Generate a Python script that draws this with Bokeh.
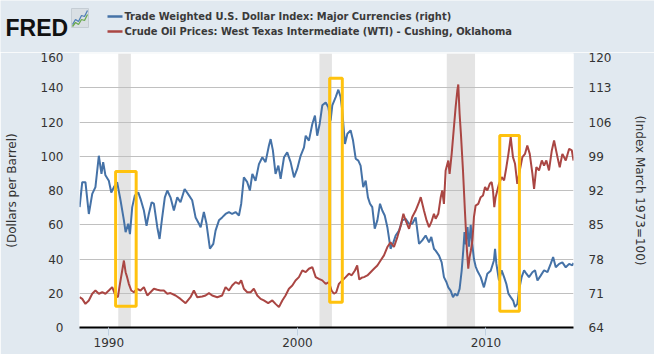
from bokeh.plotting import figure
from bokeh.layouts import column
from bokeh.models import Range1d, LinearAxis, FixedTicker
from bokeh.core.properties import value
from bokeh.embed import file_html
from bokeh.resources import INLINE

# ---------------- data ----------------
usd_dates = [1988.45, 1988.59, 1988.76, 1988.94, 1989.12, 1989.29, 1989.47, 1989.61, 1989.70, 1989.82,
             1990.00, 1990.13, 1990.27, 1990.44, 1990.62, 1990.80, 1990.89, 1991.03, 1991.12, 1991.24,
             1991.38, 1991.56, 1991.68, 1991.86, 1992.00, 1992.12, 1992.27, 1992.39, 1992.57, 1992.69,
             1992.83, 1992.97, 1993.10, 1993.27, 1993.45, 1993.63, 1993.80, 1994.02, 1994.25, 1994.42,
             1994.60, 1994.78, 1994.87, 1995.04, 1995.18, 1995.36, 1995.54, 1995.66, 1995.84, 1996.01,
             1996.19, 1996.37, 1996.54, 1996.72, 1996.90, 1997.02, 1997.16, 1997.34, 1997.48, 1997.61,
             1997.78, 1997.96, 1998.14, 1998.31, 1998.49, 1998.58, 1998.70, 1998.84, 1998.99, 1999.11,
             1999.29, 1999.46, 1999.64, 1999.82, 1999.99, 2000.17, 2000.35, 2000.44, 2000.61, 2000.79,
             2000.93, 2001.05, 2001.18, 2001.32, 2001.50, 2001.64, 2001.76, 2001.85, 2002.03, 2002.17,
             2002.29, 2002.38, 2002.52, 2002.65, 2002.82, 2002.95, 2003.09, 2003.23, 2003.35, 2003.49,
             2003.62, 2003.74, 2003.85, 2003.97, 2004.10, 2004.24, 2004.38, 2004.50, 2004.63, 2004.77,
             2004.94, 2005.09, 2005.21, 2005.39, 2005.56, 2005.74, 2005.92, 2006.09, 2006.27, 2006.45,
             2006.62, 2006.80, 2006.98, 2007.10, 2007.24, 2007.33, 2007.51, 2007.65, 2007.77, 2007.90,
             2008.00, 2008.13, 2008.25, 2008.36, 2008.48, 2008.60, 2008.71, 2008.80, 2008.86, 2008.93,
             2009.02, 2009.10, 2009.19, 2009.26, 2009.36, 2009.45, 2009.54, 2009.72, 2009.89, 2010.07,
             2010.25, 2010.42, 2010.48, 2010.55, 2010.69, 2010.83, 2010.96, 2011.08, 2011.19, 2011.31,
             2011.44, 2011.54, 2011.66, 2011.75, 2011.89, 2012.02, 2012.14, 2012.28, 2012.46, 2012.60,
             2012.73, 2012.90, 2013.08, 2013.26, 2013.43, 2013.56, 2013.70, 2013.88, 2014.05, 2014.23,
             2014.41, 2014.58, 2014.64]
usd_index = [88.6, 93.7, 93.7, 87.2, 91.3, 92.7, 99.1, 95.4, 97.8, 95.1,
             94.0, 91.6, 92.7, 93.7, 90.0, 85.9, 83.5, 85.2, 83.1, 88.6,
             91.0, 91.6, 90.3, 87.9, 84.8, 87.2, 89.6, 89.3, 84.5, 82.1,
             86.5, 90.6, 92.0, 90.6, 87.9, 90.6, 89.6, 92.3, 91.0, 90.0,
             86.5, 85.2, 84.5, 87.6, 85.2, 80.1, 81.1, 83.8, 85.9, 86.5,
             87.2, 87.6, 87.2, 87.6, 86.9, 89.3, 94.7, 93.7, 92.0, 95.4,
             94.0, 97.4, 98.8, 97.8, 101.2, 102.5, 100.2, 95.4, 97.1, 94.4,
             98.8, 99.8, 97.8, 94.7, 96.4, 99.1, 100.8, 103.2, 102.2, 105.6,
             107.3, 103.2, 105.6, 109.4, 110.0, 109.0, 106.3, 109.4, 111.1, 112.6,
             111.1, 108.3, 101.5, 103.6, 104.3, 102.2, 98.5, 98.1, 97.1, 92.7,
             94.0, 90.6, 89.3, 88.6, 84.2, 85.9, 89.3, 87.9, 86.9, 84.5,
             80.1, 81.4, 82.8, 83.8, 85.9, 86.2, 85.2, 85.2, 86.5, 81.1,
             81.8, 82.8, 81.4, 82.5, 80.1, 79.7, 78.7, 77.3, 74.3, 73.3,
             72.2, 71.5, 70.2, 70.9, 70.5, 71.9, 75.6, 80.0, 83.5, 81.0,
             84.5, 80.5, 85.0, 81.5, 78.0, 76.5, 75.6, 74.3, 72.2, 75.0,
             75.6, 77.7, 80.1, 77.0, 73.6, 75.7, 74.3, 72.9, 70.9, 70.2,
             69.5, 68.2, 68.8, 71.6, 74.3, 75.7, 75.0, 74.3, 75.3, 75.7,
             73.6, 74.6, 75.7, 75.3, 77.0, 78.4, 76.3, 77.0, 77.3, 76.3,
             77.0, 76.7, 77.2]

oil_dates = [1988.45, 1988.59, 1988.76, 1988.94, 1989.12, 1989.29, 1989.47, 1989.65, 1989.82, 1990.00,
             1990.18, 1990.35, 1990.48, 1990.59, 1990.71, 1990.80, 1990.89, 1990.97, 1991.06, 1991.19,
             1991.33, 1991.50, 1991.68, 1991.86, 1992.04, 1992.21, 1992.39, 1992.57, 1992.74, 1992.92,
             1993.10, 1993.27, 1993.54, 1993.80, 1994.07, 1994.33, 1994.51, 1994.69, 1994.95, 1995.13,
             1995.31, 1995.48, 1995.75, 1996.01, 1996.19, 1996.37, 1996.54, 1996.72, 1996.90, 1997.02,
             1997.16, 1997.34, 1997.52, 1997.69, 1997.87, 1998.05, 1998.22, 1998.45, 1998.67, 1998.84,
             1999.02, 1999.20, 1999.37, 1999.55, 1999.73, 1999.90, 2000.08, 2000.26, 2000.44, 2000.61,
             2000.79, 2000.97, 2001.14, 2001.32, 2001.50, 2001.67, 2001.81, 2001.94, 2002.06, 2002.20,
             2002.38, 2002.56, 2002.73, 2002.88, 2003.05, 2003.17, 2003.28, 2003.40, 2003.53, 2003.71,
             2003.88, 2004.06, 2004.24, 2004.41, 2004.59, 2004.77, 2004.94, 2005.12, 2005.30, 2005.48,
             2005.62, 2005.74, 2005.92, 2006.09, 2006.27, 2006.45, 2006.54, 2006.71, 2006.85, 2006.98,
             2007.10, 2007.24, 2007.33, 2007.47, 2007.60, 2007.68, 2007.77, 2007.86, 2008.00, 2008.07,
             2008.18, 2008.30, 2008.39, 2008.48, 2008.53, 2008.60, 2008.67, 2008.78, 2008.89, 2008.99,
             2009.06, 2009.13, 2009.20, 2009.28, 2009.36, 2009.45, 2009.59, 2009.72, 2009.84, 2009.95,
             2010.07, 2010.20, 2010.30, 2010.37, 2010.44, 2010.51, 2010.60, 2010.69, 2010.83, 2010.96,
             2011.08, 2011.19, 2011.31, 2011.43, 2011.54, 2011.66, 2011.79, 2011.93, 2012.07, 2012.19,
             2012.32, 2012.46, 2012.55, 2012.67, 2012.81, 2012.96, 2013.08, 2013.20, 2013.34, 2013.49,
             2013.61, 2013.79, 2013.91, 2014.05, 2014.23, 2014.41, 2014.55, 2014.64]
oil_price = [17.7, 16.7, 13.8, 15.8, 19.7, 21.6, 19.7, 20.6, 19.7, 21.6,
             23.6, 18.7, 17.7, 25.5, 33.3, 39.1, 32.3, 29.4, 25.5, 21.6,
             20.6, 22.6, 21.6, 23.6, 18.7, 20.6, 22.6, 22.0, 21.6, 21.6,
             19.7, 20.1, 18.7, 16.7, 14.2, 17.7, 21.6, 17.7, 18.1, 18.7,
             20.1, 18.7, 17.7, 18.7, 23.6, 21.6, 24.5, 26.5, 25.5, 27.5,
             22.6, 20.6, 20.6, 22.6, 18.7, 16.7, 15.8, 14.2, 15.8, 13.8,
             11.9, 15.8, 18.7, 22.6, 24.5, 27.5, 29.4, 33.3, 32.3, 34.3,
             35.3, 29.4, 28.4, 27.5, 25.5, 26.5, 21.6, 19.7, 20.6, 25.5,
             27.5, 29.4, 31.4, 30.5, 33.3, 36.2, 28.0, 29.0, 29.4, 30.4,
             32.3, 34.3, 36.2, 39.1, 42.1, 47.0, 49.8, 47.0, 52.8, 59.6,
             66.4, 62.5, 57.6, 64.5, 68.3, 73.2, 76.1, 68.3, 62.5, 58.6,
             61.5, 66.4, 63.5, 66.4, 76.1, 80.0, 72.2, 91.7, 97.5, 89.7,
             101.4, 117.0, 128.7, 138.4, 141.9, 124.8, 113.1, 91.7, 66.4, 45.0,
             34.3, 41.1, 45.0, 50.8, 64.4, 71.2, 72.2, 76.1, 77.1, 82.0,
             80.0, 83.9, 84.9, 80.0, 70.3, 76.1, 80.0, 83.9, 87.8, 85.9,
             93.6, 101.4, 111.2, 99.5, 95.6, 83.9, 91.7, 99.5, 101.4, 106.3,
             101.4, 89.8, 81.0, 93.6, 91.7, 97.5, 94.6, 97.5, 91.7, 103.4,
             109.2, 99.5, 93.6, 101.4, 97.5, 104.4, 103.4, 97.5]

# recessions (shaded)
rec_start = [1990.50, 2001.17, 2007.92]
rec_end = [1991.17, 2001.83, 2009.42]

# highlight boxes (left-axis units for top/bottom)
box_left = [1990.36, 2001.71, 2010.73]
box_right = [1991.45, 2002.38, 2011.77]
box_bottom = [12.4, 14.8, 9.5]
box_top = [91.1, 145.6, 112.1]

left_ticks = [0, 20, 40, 60, 80, 100, 120, 140, 160]
right_ticks = [64, 71, 78, 85, 92, 99, 106, 113, 120]
year_ticks = [1990, 2000, 2010]

series_names = ["Trade Weighted U.S. Dollar Index: Major Currencies (right)",
                "Crude Oil Prices: West Texas Intermediate (WTI) - Cushing, Oklahoma"]
series_colors = ["#4572A7", "#AA4643"]

BG = "#E1E9F0"
TXT = "#333333"
FONT = "DejaVu Sans"

# ---------------- header: logo + legend (pixel-like coordinates) ----------------
head = figure(width=654, height=52, output_backend="svg", toolbar_location=None,
              x_range=Range1d(0, 654), y_range=Range1d(52, 0),
              min_border=0, border_fill_color=BG, background_fill_color=BG,
              outline_line_color=None)
head.frame_align = False
head.axis.visible = False
head.grid.visible = False

head.text(x=[5], y=[27], text=["FRED"], text_font=value("Liberation Sans"),
          text_font_style="bold", text_font_size="23px", text_color="#111111",
          text_baseline="alphabetic")
# small chart icon next to the logo
head.quad(left=[71], right=[88], top=[8], bottom=[27], fill_color="#D9DFE4",
          line_color="#C5CDD4")
head.line(x=[72, 75, 78, 81, 84, 87], y=[24, 19, 21, 15, 16, 10], line_color="#4F7FB5", line_width=1.3)
head.line(x=[72, 75, 78, 81, 84, 87], y=[26, 22, 24, 19, 20, 14], line_color="#6AAA4F", line_width=1.3)

# legend rows
legend_y = [16, 31]
for yy, name, col in zip(legend_y, series_names, series_colors):
    head.line(x=[107, 122], y=[yy, yy], line_color=col, line_width=2.5)
    head.text(x=[124], y=[yy], text=[name], text_font=value("DejaVu Sans Condensed"),
              text_font_style="bold", text_font_size="11px", text_color="#3A3A3A",
              text_baseline="middle")

# ---------------- main chart ----------------
p = figure(width=654, height=302, output_backend="svg", toolbar_location=None,
           x_range=Range1d(1988.445, 2014.64), y_range=Range1d(0, 160),
           min_border_left=79, min_border_right=81, min_border_top=1, min_border_bottom=27,
           border_fill_color=BG, background_fill_color="white", outline_line_color=None)
p.frame_align = False
p.extra_y_ranges = {"idx": Range1d(64, 120)}

p.quad(left=rec_start, right=rec_end, bottom=0, top=160, fill_color="#E4E4E4",
       line_color=None, level="image")

p.line(usd_dates, usd_index, y_range_name="idx", line_color=series_colors[0], line_width=2)
p.line(oil_dates, oil_price, line_color=series_colors[1], line_width=2)

p.quad(left=box_left, right=box_right, bottom=box_bottom, top=box_top,
       fill_alpha=0, line_color="#FFC20E", line_width=3)

p.xgrid.grid_line_color = None
p.ygrid.grid_line_color = "#C0C0C0"
p.ygrid.ticker = FixedTicker(ticks=left_ticks)

xa = p.xaxis[0]
xa.ticker = FixedTicker(ticks=year_ticks)
xa.axis_line_color = "black"
xa.axis_line_width = 2
xa.major_tick_line_color = "#C0D0E0"
xa.major_tick_out = 8
xa.major_tick_in = 0
xa.minor_tick_line_color = None
xa.major_label_standoff = 2
xa.major_label_text_font = FONT
xa.major_label_text_font_size = "12px"
xa.major_label_text_color = TXT

ya = p.yaxis[0]
ya.ticker = FixedTicker(ticks=left_ticks)
ya.axis_line_color = None
ya.major_tick_line_color = None
ya.minor_tick_line_color = None
ya.major_tick_out = 0
ya.major_tick_in = 0
ya.major_label_standoff = 16
ya.major_label_text_font = FONT
ya.major_label_text_font_size = "12px"
ya.major_label_text_color = TXT
ya.axis_label = "(Dollars per Barrel)"
ya.axis_label_text_font = FONT
ya.axis_label_text_font_size = "12px"
ya.axis_label_text_font_style = "normal"
ya.axis_label_text_color = TXT
ya.axis_label_standoff = 19

ra = LinearAxis(y_range_name="idx", ticker=FixedTicker(ticks=right_ticks))
ra.axis_line_color = None
ra.major_tick_line_color = None
ra.minor_tick_line_color = None
ra.major_tick_out = 0
ra.major_tick_in = 0
ra.major_label_standoff = 15
ra.major_label_text_font = FONT
ra.major_label_text_font_size = "12px"
ra.major_label_text_color = TXT
ra.axis_label = "(Index March 1973=100)"
ra.axis_label_text_font = FONT
ra.axis_label_text_font_size = "12px"
ra.axis_label_text_font_style = "normal"
ra.axis_label_text_color = TXT
ra.axis_label_standoff = 19
p.add_layout(ra, "right")

layout = column(head, p, spacing=0)
open("out.html", "w").write(file_html(layout, INLINE))
